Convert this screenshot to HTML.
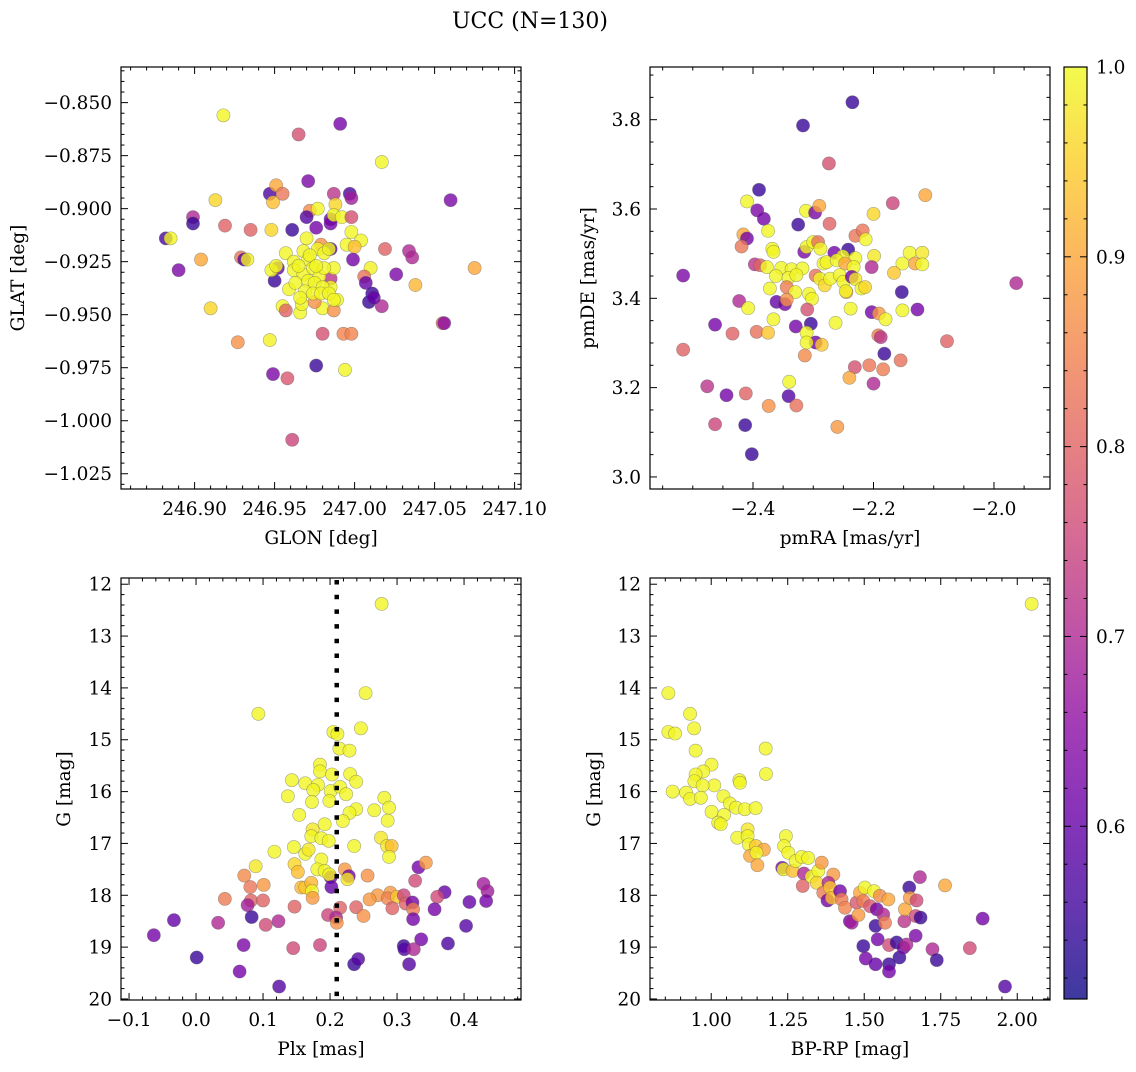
<!DOCTYPE html>
<html><head><meta charset="utf-8"><style>
html,body{margin:0;padding:0;background:#fff}
svg text{font-family:"DejaVu Serif","Liberation Serif",serif;fill:#000}
</style></head><body>
<svg id="fig" width="1136" height="1067" viewBox="0 0 1136 1067" xmlns="http://www.w3.org/2000/svg">
<text x="530" y="28" font-size="22" text-anchor="middle">UCC (N=130)</text>
</svg>
<script>
// ---- data (per panel) ----
const p1Glon=[246.918,246.991,246.965,247.017,246.971,246.947,246.951,246.955,246.949,246.913,246.987,246.997,246.998,247.060,246.899,246.899,246.919,246.935,246.948,246.961,246.972,246.977,246.970,246.976,246.985,246.985,246.988,246.987,246.992,246.998,246.882,246.885,246.998,247.004,246.995,247.000,246.970,247.019,247.034,247.036,246.904,246.929,246.931,246.933,246.890,246.999,247.010,247.075,247.026,247.006,247.007,247.038,247.011,247.009,247.017,247.012,246.950,246.952,246.948,246.951,246.957,246.959,246.955,246.957,246.966,246.967,246.980,246.987,246.989,246.975,246.985,246.979,246.985,246.910,247.055,247.056,246.980,246.993,246.998,246.927,246.947,246.976,246.994,246.949,246.958,246.961,246.962,246.968,246.971,246.977,246.981,246.984,246.987,246.962,246.968,246.974,246.978,246.981,246.985,246.963,246.971,246.975,246.980,246.969,246.974,246.979,246.966,246.984,246.987,246.972,246.976,246.965];
const p1Glat=[-0.856,-0.860,-0.865,-0.878,-0.887,-0.893,-0.889,-0.893,-0.897,-0.896,-0.893,-0.893,-0.895,-0.896,-0.904,-0.907,-0.908,-0.910,-0.910,-0.910,-0.901,-0.900,-0.904,-0.909,-0.905,-0.907,-0.898,-0.903,-0.904,-0.904,-0.914,-0.914,-0.911,-0.915,-0.917,-0.918,-0.914,-0.919,-0.920,-0.923,-0.924,-0.923,-0.924,-0.924,-0.929,-0.924,-0.928,-0.928,-0.931,-0.932,-0.935,-0.936,-0.940,-0.944,-0.946,-0.942,-0.934,-0.928,-0.929,-0.927,-0.921,-0.938,-0.946,-0.948,-0.949,-0.945,-0.947,-0.948,-0.943,-0.944,-0.933,-0.917,-0.919,-0.947,-0.954,-0.954,-0.959,-0.959,-0.959,-0.963,-0.962,-0.974,-0.976,-0.978,-0.980,-1.009,-0.925,-0.920,-0.924,-0.919,-0.921,-0.919,-0.928,-0.929,-0.931,-0.928,-0.932,-0.928,-0.937,-0.935,-0.934,-0.935,-0.937,-0.939,-0.940,-0.940,-0.942,-0.940,-0.943,-0.922,-0.927,-0.927];
const p1Prob=[0.995,0.62,0.77,0.995,0.63,0.57,0.9,0.83,0.93,0.96,0.72,0.57,0.68,0.63,0.7,0.55,0.8,0.8,0.96,0.55,0.86,0.995,0.58,0.62,0.6,0.62,0.96,0.995,0.995,0.77,0.57,0.995,0.995,0.995,0.995,0.93,0.995,0.8,0.7,0.7,0.9,0.83,0.58,0.99,0.63,0.62,0.99,0.9,0.63,0.82,0.6,0.92,0.55,0.55,0.7,0.6,0.55,0.6,0.995,0.995,0.995,0.995,0.995,0.8,0.995,0.995,0.995,0.87,0.995,0.87,0.72,0.87,0.57,0.96,0.82,0.65,0.77,0.85,0.85,0.87,0.99,0.55,0.995,0.63,0.78,0.75,0.995,0.995,0.995,0.995,0.995,0.995,0.995,0.995,0.995,0.995,0.995,0.995,0.995,0.995,0.995,0.995,0.995,0.995,0.995,0.995,0.995,0.995,0.995,0.995,0.995,0.995];

const p2Pmra=[-2.235,-2.317,-2.274,-2.390,-2.114,-2.410,-2.168,-2.393,-2.382,-2.312,-2.297,-2.290,-2.325,-2.273,-2.200,-2.375,-2.416,-2.410,-2.419,-2.368,-2.366,-2.230,-2.218,-2.213,-2.315,-2.311,-2.300,-2.292,-2.288,-2.265,-2.242,-2.251,-2.230,-2.199,-2.140,-2.119,-2.152,-2.131,-2.119,-2.166,-2.203,-2.516,-2.397,-2.388,-2.377,-2.353,-2.336,-2.318,-2.362,-2.341,-2.328,-2.296,-2.283,-2.278,-2.261,-2.247,-2.233,-2.289,-2.281,-2.272,-2.256,-2.250,-2.236,-2.230,-2.245,-2.246,-2.220,-2.214,-2.372,-2.344,-2.330,-2.307,-2.302,-2.153,-2.423,-2.408,-2.361,-2.347,-2.344,-2.310,-2.238,-2.152,-2.127,-2.203,-2.191,-2.180,-2.366,-2.463,-2.434,-2.394,-2.375,-2.329,-2.304,-2.263,-2.311,-2.296,-2.311,-2.286,-2.192,-2.188,-2.078,-2.516,-2.314,-2.182,-2.231,-2.207,-2.184,-2.155,-2.240,-2.200,-2.340,-2.476,-2.444,-2.412,-2.341,-2.374,-2.328,-2.463,-2.413,-2.260,-2.402,-1.963];
const p2Pmde=[3.839,3.787,3.702,3.643,3.631,3.617,3.613,3.597,3.578,3.596,3.592,3.607,3.565,3.567,3.589,3.551,3.543,3.534,3.516,3.511,3.504,3.540,3.552,3.532,3.504,3.515,3.526,3.526,3.511,3.502,3.509,3.494,3.490,3.495,3.502,3.502,3.478,3.478,3.476,3.457,3.470,3.451,3.476,3.474,3.470,3.468,3.465,3.467,3.450,3.446,3.452,3.451,3.478,3.481,3.485,3.478,3.470,3.444,3.429,3.444,3.452,3.437,3.448,3.443,3.414,3.416,3.422,3.425,3.422,3.425,3.414,3.410,3.399,3.414,3.394,3.378,3.392,3.387,3.397,3.375,3.377,3.373,3.375,3.369,3.366,3.353,3.353,3.341,3.321,3.325,3.323,3.337,3.343,3.345,3.323,3.301,3.301,3.296,3.317,3.313,3.304,3.285,3.272,3.276,3.246,3.250,3.241,3.261,3.222,3.209,3.213,3.203,3.183,3.187,3.181,3.159,3.160,3.118,3.116,3.112,3.051,3.434];
const p2Prob=[0.55,0.55,0.77,0.55,0.9,0.995,0.75,0.63,0.62,0.995,0.63,0.9,0.55,0.8,0.96,0.995,0.9,0.62,0.83,0.995,0.995,0.83,0.83,0.995,0.63,0.995,0.995,0.82,0.995,0.62,0.55,0.995,0.995,0.98,0.995,0.98,0.995,0.9,0.995,0.94,0.7,0.63,0.72,0.8,0.995,0.995,0.995,0.995,0.995,0.995,0.995,0.82,0.995,0.995,0.995,0.9,0.995,0.995,0.96,0.995,0.995,0.995,0.62,0.98,0.9,0.995,0.995,0.96,0.995,0.84,0.995,0.995,0.995,0.55,0.7,0.995,0.6,0.62,0.87,0.77,0.995,0.995,0.62,0.62,0.88,0.995,0.995,0.62,0.8,0.82,0.94,0.62,0.55,0.995,0.995,0.62,0.995,0.94,0.85,0.72,0.8,0.8,0.86,0.55,0.77,0.83,0.84,0.82,0.9,0.7,0.995,0.72,0.62,0.8,0.58,0.87,0.82,0.75,0.55,0.88,0.55,0.7];

const p3Plx=[0.277,0.253,0.093,0.246,0.205,0.211,0.214,0.229,0.185,0.185,0.203,0.230,0.143,0.163,0.182,0.175,0.201,0.215,0.239,0.224,0.137,0.173,0.199,0.281,0.288,0.266,0.239,0.229,0.154,0.286,0.219,0.192,0.174,0.172,0.187,0.198,0.276,0.285,0.292,0.236,0.288,0.146,0.117,0.163,0.168,0.187,0.089,0.147,0.152,0.181,0.192,0.201,0.199,0.222,0.228,0.226,0.072,0.256,0.332,0.343,0.327,0.081,0.101,0.157,0.163,0.172,0.173,0.174,0.202,0.429,0.435,0.371,0.360,0.271,0.290,0.286,0.300,0.310,0.259,0.043,0.082,0.100,0.077,0.313,0.323,0.408,0.433,0.147,0.215,0.239,0.293,0.324,0.356,0.250,0.197,0.209,0.210,0.083,-0.033,0.033,0.104,0.123,0.324,0.403,-0.063,0.071,0.145,0.185,0.336,0.310,0.311,0.325,0.376,0.001,0.236,0.242,0.318,0.065,0.124];
const p3G=[12.38,14.10,14.50,14.78,14.85,14.89,15.17,15.21,15.48,15.61,15.67,15.66,15.78,15.84,15.87,15.97,15.99,15.91,15.81,16.05,16.09,16.20,16.18,16.12,16.31,16.36,16.34,16.41,16.45,16.56,16.57,16.63,16.73,16.86,16.90,16.95,16.89,17.05,17.05,17.05,17.26,17.07,17.16,17.20,17.12,17.31,17.44,17.40,17.55,17.50,17.53,17.65,17.60,17.50,17.63,17.69,17.62,17.62,17.46,17.37,17.72,17.84,17.80,17.85,17.85,17.76,17.92,18.05,17.84,17.78,17.92,17.94,18.03,18.00,17.95,18.06,18.03,18.00,18.08,18.07,18.10,18.10,18.19,18.16,18.14,18.13,18.11,18.22,18.24,18.23,18.25,18.27,18.27,18.40,18.38,18.43,18.53,18.42,18.48,18.53,18.57,18.50,18.46,18.59,18.77,18.96,19.02,18.96,18.85,18.98,19.04,19.04,18.93,19.20,19.33,19.23,19.33,19.47,19.76];
const p3Prob=[0.995,0.995,0.995,0.995,0.995,0.995,0.995,0.995,0.995,0.995,0.995,0.995,0.995,0.995,0.995,0.995,0.995,0.995,0.995,0.995,0.995,0.995,0.995,0.995,0.995,0.995,0.995,0.995,0.995,0.995,0.995,0.995,0.98,0.995,0.995,0.995,0.98,0.98,0.93,0.995,0.995,0.995,0.995,0.995,0.98,0.995,0.98,0.96,0.93,0.995,0.995,0.62,0.995,0.88,0.62,0.98,0.86,0.87,0.62,0.88,0.76,0.83,0.88,0.92,0.94,0.92,0.995,0.88,0.6,0.68,0.68,0.6,0.76,0.88,0.88,0.85,0.94,0.75,0.88,0.84,0.8,0.8,0.68,0.8,0.62,0.6,0.62,0.8,0.8,0.8,0.8,0.84,0.62,0.87,0.75,0.7,0.87,0.55,0.6,0.7,0.76,0.7,0.62,0.58,0.62,0.63,0.76,0.75,0.62,0.55,0.58,0.7,0.57,0.55,0.55,0.58,0.58,0.62,0.58];

const p4Bprp=[2.047,0.860,0.931,0.860,0.882,0.944,1.178,0.949,1.001,0.974,0.949,1.179,0.945,1.092,1.094,1.010,0.972,0.874,0.918,0.931,0.966,1.040,1.061,1.081,1.110,1.145,1.001,1.042,1.023,1.031,1.085,1.119,1.119,1.123,1.146,1.172,1.127,1.148,1.151,1.244,1.238,1.252,1.232,1.236,1.266,1.276,1.296,1.317,1.303,1.299,1.328,1.350,1.361,1.345,1.399,1.383,1.366,1.380,1.388,1.394,1.421,1.426,1.437,1.453,1.459,1.475,1.481,1.486,1.502,1.497,1.519,1.532,1.541,1.551,1.562,1.537,1.568,1.579,1.544,1.497,1.505,1.537,1.581,1.581,1.581,1.606,1.615,1.628,1.638,1.631,1.633,1.647,1.649,1.671,1.668,1.684,1.682,1.668,1.723,1.737,1.764,1.845,1.887,1.960];
const p4G=[12.38,14.10,14.50,14.85,14.88,14.78,15.17,15.21,15.48,15.61,15.67,15.66,15.80,15.78,15.83,15.88,15.88,16.00,16.02,16.14,16.12,16.09,16.23,16.31,16.34,16.32,16.39,16.45,16.60,16.63,16.89,16.73,16.86,17.02,17.05,17.12,17.24,17.18,17.42,16.86,17.05,17.18,17.47,17.50,17.53,17.34,17.26,17.28,17.58,17.82,17.64,17.53,17.37,17.76,17.60,17.76,17.95,18.10,17.85,18.05,17.92,18.08,18.24,18.50,18.53,18.14,18.38,17.95,17.85,18.11,18.21,17.92,18.27,18.01,18.37,18.59,18.53,18.08,18.85,18.98,19.22,19.33,19.33,19.47,18.96,18.91,19.20,19.01,18.95,18.50,18.27,17.85,18.05,18.10,18.40,18.43,17.65,18.78,19.04,19.25,17.81,19.02,18.45,19.76];
const p4Prob=[0.995,0.995,0.995,0.995,0.995,0.995,0.995,0.995,0.995,0.995,0.995,0.995,0.995,0.995,0.995,0.995,0.995,0.995,0.995,0.995,0.995,0.995,0.995,0.995,0.995,0.995,0.995,0.995,0.995,0.995,0.995,0.98,0.995,0.995,0.94,0.9,0.9,0.995,0.9,0.995,0.995,0.995,0.62,0.995,0.93,0.995,0.995,0.995,0.7,0.8,0.995,0.995,0.88,0.96,0.88,0.7,0.84,0.62,0.94,0.93,0.62,0.84,0.85,0.62,0.68,0.78,0.88,0.9,0.995,0.84,0.78,0.995,0.62,0.86,0.7,0.55,0.84,0.9,0.62,0.55,0.62,0.6,0.55,0.62,0.76,0.55,0.55,0.62,0.7,0.72,0.9,0.55,0.88,0.76,0.76,0.55,0.7,0.63,0.7,0.55,0.9,0.76,0.62,0.58];

const p1XTicks=[246.90,246.95,247.00,247.05,247.10], p1XLabels=["246.90","246.95","247.00","247.05","247.10"];
const p1YTicks=[-0.850,-0.875,-0.900,-0.925,-0.950,-0.975,-1.000,-1.025], p1YLabels=["\u22120.850","\u22120.875","\u22120.900","\u22120.925","\u22120.950","\u22120.975","\u22121.000","\u22121.025"];
const p2XTicks=[-2.4,-2.2,-2.0], p2XLabels=["\u22122.4","\u22122.2","\u22122.0"];
const p2YTicks=[3.0,3.2,3.4,3.6,3.8], p2YLabels=["3.0","3.2","3.4","3.6","3.8"];
const p3XTicks=[-0.1,0.0,0.1,0.2,0.3,0.4], p3XLabels=["\u22120.1","0.0","0.1","0.2","0.3","0.4"];
const gTicks=[12,13,14,15,16,17,18,19,20], gLabels=["12","13","14","15","16","17","18","19","20"];
const p4XTicks=[1.00,1.25,1.50,1.75,2.00], p4XLabels=["1.00","1.25","1.50","1.75","2.00"];
const cbTicks=[0.6,0.7,0.8,0.9,1.0], cbLabels=["0.6","0.7","0.8","0.9","1.0"];
const plxMedian=0.21;
const vmin=0.509, vmax=1.0;

const NS="http://www.w3.org/2000/svg";
const svg=document.getElementById('fig');
const FS=18.5;
function mk(tag,attrs,parent){const e=document.createElementNS(NS,tag);for(const k in attrs)e.setAttribute(k,attrs[k]);(parent||svg).appendChild(e);return e;}
const stops=[[13,8,135],[65,4,157],[106,0,168],[143,13,164],[177,42,144],[204,71,120],[225,100,98],[242,132,75],[252,166,54],[252,206,37],[240,249,33]];
function plasma(v){let t=(v-vmin)/(vmax-vmin);t=Math.max(0,Math.min(1,t))*10;const i=Math.min(9,Math.floor(t)),f=t-i;const a=stops[i],b=stops[i+1];return `rgb(${a.map((c,j)=>Math.round(c+(b[j]-c)*f)).join(',')})`;}

function panel(cfg){
  const {x0,y0,w,h,xmin,xmax,ymin,ymax,invertY}=cfg;
  const g=mk('g',{});
  
  
  const sx=v=>x0+(v-xmin)/(xmax-xmin)*w;
  const sy=v=>invertY? y0+(v-ymin)/(ymax-ymin)*h : y0+h-(v-ymin)/(ymax-ymin)*h;
  const pts=mk('g',{},g);
  
  
  for(let i=0;i<cfg.xs.length;i++){
    const c=mk('circle',{cx:sx(cfg.xs[i]),cy:sy(cfg.ys[i]),r:6.6,fill:plasma(cfg.cs[i]),'fill-opacity':0.8,stroke:'rgba(90,90,90,0.5)','stroke-width':0.6},pts);
    
    
  }
  if(cfg.extra) cfg.extra(g,sx,sy);
  const fr=mk('rect',{x:x0,y:y0,width:w,height:h,fill:'none',stroke:'#000','stroke-width':1.2},g);
  
  
  const tk=mk('g',{stroke:'#000','stroke-width':1},g);
  for(let v=Math.ceil(xmin/cfg.xminor-1e-6)*cfg.xminor;v<=xmax+1e-9;v+=cfg.xminor){
    const X=sx(v);const major=cfg.xt.some(t=>Math.abs(t-v)<cfg.xminor/3);const L=major?7:3.5;
    mk('line',{x1:X,x2:X,y1:y0+h,y2:y0+h-L},tk);mk('line',{x1:X,x2:X,y1:y0,y2:y0+L},tk);
  }
  for(let v=Math.ceil(ymin/cfg.yminor-1e-6)*cfg.yminor;v<=ymax+1e-9;v+=cfg.yminor){
    const Y=sy(v);const major=cfg.yt.some(t=>Math.abs(t-v)<cfg.yminor/3);const L=major?7:3.5;
    mk('line',{x1:x0,x2:x0+L,y1:Y,y2:Y},tk);mk('line',{x1:x0+w,x2:x0+w-L,y1:Y,y2:Y},tk);
  }
  cfg.xt.forEach((t,i)=>{const e=mk('text',{x:sx(t),y:y0+h+26,'font-size':FS,'text-anchor':'middle'},g);e.textContent=cfg.xl[i];
    });
  cfg.yt.forEach((t,i)=>{const e=mk('text',{x:x0-9,y:sy(t)+6.5,'font-size':FS,'text-anchor':'end'},g);e.textContent=cfg.yl[i];
    });
  const xt=mk('text',{x:x0+w/2,y:y0+h+55,'font-size':FS,'text-anchor':'middle'},g);xt.textContent=cfg.xtitle;
  
  const yx=cfg.ytx, yy=y0+h/2;
  const yt=mk('text',{x:yx,y:yy,'font-size':FS,'text-anchor':'middle',transform:`rotate(-90 ${yx} ${yy})`},g);yt.textContent=cfg.ytitle;
  
}

panel({name:'glon-glat-panel',x0:121,y0:67,w:400,h:422,xmin:246.854,xmax:247.104,ymin:-1.0322,ymax:-0.8332,
  xs:p1Glon,ys:p1Glat,cs:p1Prob,xt:p1XTicks,xl:p1XLabels,yt:p1YTicks,yl:p1YLabels,xminor:0.01,yminor:0.005,xtitle:'GLON [deg]',ytitle:'GLAT [deg]',ytx:24});
panel({name:'pm-panel',x0:650,y0:67,w:400,h:422,xmin:-2.571,xmax:-1.907,ymin:2.973,ymax:3.918,
  xs:p2Pmra,ys:p2Pmde,cs:p2Prob,xt:p2XTicks,xl:p2XLabels,yt:p2YTicks,yl:p2YLabels,xminor:0.05,yminor:0.05,xtitle:'pmRA [mas/yr]',ytitle:'pmDE [mas/yr]',ytx:594});
panel({name:'plx-g-panel',x0:121,y0:578,w:400,h:422,xmin:-0.112,xmax:0.485,ymin:11.88,ymax:20.02,invertY:true,
  xs:p3Plx,ys:p3G,cs:p3Prob,xt:p3XTicks,xl:p3XLabels,yt:gTicks,yl:gLabels,xminor:0.02,yminor:0.2,xtitle:'Plx [mas]',ytitle:'G [mag]',ytx:70,
  extra:(g,sx,sy)=>{const l=mk('line',{x1:sx(plxMedian),x2:sx(plxMedian),y1:580,y2:1000,stroke:'#000','stroke-width':4.5,'stroke-dasharray':'4.5 10.2'},g);
    }});
panel({name:'cmd-panel',x0:650,y0:578,w:400,h:422,xmin:0.80,xmax:2.107,ymin:11.88,ymax:20.02,invertY:true,
  xs:p4Bprp,ys:p4G,cs:p4Prob,xt:p4XTicks,xl:p4XLabels,yt:gTicks,yl:gLabels,xminor:0.05,yminor:0.2,xtitle:'BP-RP [mag]',ytitle:'G [mag]',ytx:600});

const cb=mk('g',{});


const defs=mk('defs',{},cb);
const lg=mk('linearGradient',{id:'cbg',x1:0,y1:1,x2:0,y2:0},defs);
stops.forEach((s,i)=>mk('stop',{offset:i/10,'stop-color':`rgb(${s.join(',')})`,'stop-opacity':0.8},lg));
const cbx=1064,cby=67,cbw=23,cbh=932;
const cbr=mk('rect',{x:cbx,y:cby,width:cbw,height:cbh,fill:'url(#cbg)',stroke:'#000','stroke-width':1.2},cb);


const cy=v=>cby+cbh-(v-vmin)/(vmax-vmin)*cbh;
for(let v=0.52;v<=1.0001;v+=0.02){const Y=cy(v);const major=cbTicks.some(t=>Math.abs(t-v)<0.005);
  mk('line',{x1:cbx+cbw,x2:cbx+cbw-(major?7:3.5),y1:Y,y2:Y,stroke:'#000','stroke-width':1},cb);
  mk('line',{x1:cbx,x2:cbx+(major?7:3.5),y1:Y,y2:Y,stroke:'#000','stroke-width':1},cb);}
cbTicks.forEach((t,i)=>{const e=mk('text',{x:cbx+cbw+9,y:cy(t)+6.5,'font-size':FS},cb);e.textContent=cbLabels[i];
  });
</script>
</body></html>
